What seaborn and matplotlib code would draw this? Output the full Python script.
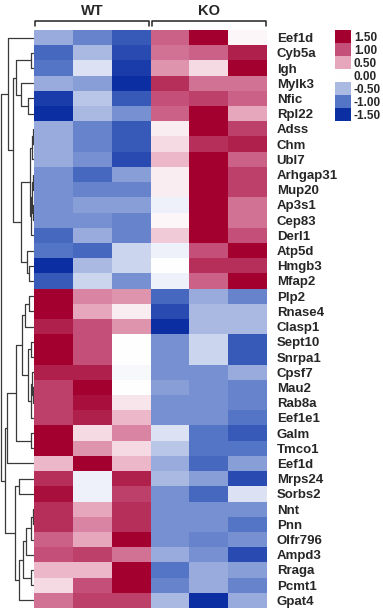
import numpy as np
import pandas as pd
import matplotlib
matplotlib.use("Agg")
import matplotlib.pyplot as plt
from matplotlib.colors import LinearSegmentedColormap
import seaborn as sns

# data
genes = ["Eef1d", "Cyb5a", "Igh", "Mylk3", "Nfic", "Rpl22", "Adss", "Chm", "Ubl7",
         "Arhgap31", "Mup20", "Ap3s1", "Cep83", "Derl1", "Atp5d", "Hmgb3", "Mfap2",
         "Plp2", "Rnase4", "Clasp1", "Sept10", "Snrpa1", "Cpsf7", "Mau2", "Rab8a",
         "Eef1e1", "Galm", "Tmco1", "Eef1d", "Mrps24", "Sorbs2", "Nnt", "Pnn",
         "Olfr796", "Ampd3", "Rraga", "Pcmt1", "Gpat4"]
samples = ["WT1", "WT2", "WT3", "KO1", "KO2", "KO3"]
groups = ["WT", "KO"]

wt1 = [-0.6, -1.1, -1.0, -0.6, -1.4, -1.5, -0.6, -0.6, -0.6, -0.8, -0.8, -0.8, -0.8,
       -1.1, -1.0, -1.5, -1.2, 1.6, 1.6, 1.3, 1.5, 1.5, 1.3, 1.1, 1.1, 1.1, 1.6, 1.6,
       0.4, 1.2, 1.4, 1.2, 1.2, 0.9, 1.0, 0.4, 0.2, 0.8]
wt2 = [-0.9, -0.5, -0.2, -0.7, -0.4, -0.5, -0.9, -0.9, -0.8, -1.1, -0.9, -0.7, -0.8,
       -0.6, -1.1, -0.5, -0.3, 0.7, 0.5, 1.0, 1.0, 1.0, 1.3, 1.6, 1.4, 1.3, 0.2, 0.6,
       1.6, -0.1, -0.1, 0.5, 0.7, 0.5, 1.1, 0.4, 1.0, 1.1]
wt3 = [-1.2, -1.3, -1.4, -1.6, -1.2, -0.8, -1.2, -1.2, -1.3, -0.7, -0.9, -0.7, -0.9,
       -0.9, -0.3, -0.3, -0.8, 0.6, 0.1, 0.6, 0.0, 0.0, -0.05, 0.0, 0.15, 0.4, 0.7, 0.2,
       0.4, 1.3, 1.1, 1.2, 1.2, 1.6, 0.8, 1.6, 1.6, 1.1]
ko1 = [0.9, 0.8, 0.6, 1.2, 1.0, 0.9, 0.1, 0.2, 0.4, 0.1, 0.1, -0.1, 0.05, 0.3,
       -0.1, 0.0, -0.1, -1.1, -1.3, -1.6, -0.8, -0.8, -0.8, -0.7, -0.8, -0.8, -0.2, -0.4,
       -0.6, -0.5, -0.8, -0.8, -0.8, -0.8, -0.6, -1.0, -0.9, -0.5]
ko2 = [1.6, 0.9, 0.2, 0.8, 1.1, 1.5, 1.6, 1.2, 1.6, 1.6, 1.6, 1.6, 1.6, 1.5, 1.0,
       1.2, 0.9, -0.6, -0.5, -0.5, -0.3, -0.3, -0.8, -0.8, -0.8, -0.8, -1.0, -1.0,
       -1.1, -0.7, -1.1, -0.8, -0.8, -0.9, -0.8, -0.6, -0.6, -1.6]
ko3 = [0.05, 1.3, 1.6, 0.8, 0.9, 0.5, 1.1, 1.3, 0.9, 1.1, 1.1, 0.8, 0.8, 1.0, 1.5,
       1.2, 1.6, -0.9, -0.5, -0.5, -1.2, -1.2, -0.6, -0.9, -0.9, -1.0, -1.2, -1.0,
       -0.7, -1.3, -0.2, -0.8, -1.0, -0.8, -1.3, -0.7, -0.9, -0.6]

# row dendrogram: (left, right, height); ids >= 38 are earlier merges
merges = [(1, 2, 3), (4, 5, 6), (3, 39, 13), (38, 40, 17),
          (6, 7, 1), (42, 8, 2), (9, 10, 1), (11, 12, 1), (44, 45, 2), (46, 13, 3),
          (43, 47, 4), (15, 16, 5), (14, 49, 7), (48, 50, 13), (41, 51, 20), (0, 52, 25),
          (17, 18, 5), (54, 19, 9), (20, 21, 3), (23, 24, 1), (22, 57, 2), (58, 25, 3),
          (56, 59, 6), (55, 60, 12), (26, 27, 3), (61, 62, 17), (63, 28, 26),
          (29, 30, 15), (31, 32, 1), (66, 33, 3), (67, 34, 8), (35, 36, 3), (68, 69, 11),
          (70, 37, 15), (65, 71, 18), (64, 72, 28), (53, 73, 32.5)]

legend_vals = [1.5, 1.0, 0.5, 0.0, -0.5, -1.0, -1.5]

df = pd.DataFrame({"WT1": wt1, "WT2": wt2, "WT3": wt3,
                   "KO1": ko1, "KO2": ko2, "KO3": ko3})

sns.set_theme(style="white")
plt.rcParams["font.family"] = ["Liberation Sans", "DejaVu Sans"]
plt.rcParams["font.weight"] = "bold"

cmap = LinearSegmentedColormap.from_list(
    "bwr_ref",
    [(0.0, "#0b2fa3"), (1 / 6, "#5576c6"), (2 / 6, "#aab9e2"), (0.5, "#ffffff"),
     (4 / 6, "#e6a6bc"), (5 / 6, "#c4507a"), (1.0, "#a3002f")])

fig = plt.figure(figsize=(3.83, 6.13), dpi=100)
ax = fig.add_axes([34 / 383, 5 / 613, 233 / 383, 578 / 613])
ax_d = fig.add_axes([0, 5 / 613, 34 / 383, 578 / 613])
ax_l = fig.add_axes([335 / 383, 1 - 121 / 613, 16 / 383, 91 / 613])

sns.heatmap(df, cmap=cmap, vmin=-1.5, vmax=1.5, cbar=False, ax=ax,
            xticklabels=False, yticklabels=genes)
ax.yaxis.tick_right()
ax.tick_params(axis="y", length=0, pad=7, labelsize=9.5)
plt.setp(ax.get_yticklabels(), rotation=0, fontweight="bold")
ax.set_ylabel("")

# group headers with brackets
for i, g in enumerate(groups):
    x0, x1 = 3 * i + 0.03, 3 * i + 2.97
    ax.plot([x0, x0, x1, x1], [-0.25, -0.62, -0.62, -0.25], color="#222222",
            lw=1.1, clip_on=False)
    ax.text(3 * i + 1.5, -1.25, g, ha="center", va="center", fontsize=10.5,
            fontweight="bold")

# dendrogram
n = len(genes)
pos = {i: i + 0.5 for i in range(n)}
hgt = {i: 0.0 for i in range(n)}
for k, (a, b, h) in enumerate(merges):
    ya, yb = pos[a], pos[b]
    ax_d.plot([hgt[a], h, h, hgt[b]], [ya, ya, yb, yb], color="#3a3a3a", lw=0.9)
    pos[n + k] = (ya + yb) / 2
    hgt[n + k] = h
ax_d.set_xlim(33, 0)
ax_d.set_ylim(n, 0)
ax_d.axis("off")

# legend
leg = pd.DataFrame({"v": legend_vals})
sns.heatmap(leg, cmap=cmap, vmin=-1.5, vmax=1.5, cbar=False, ax=ax_l,
            xticklabels=False, yticklabels=[f"{v:.2f}" for v in legend_vals])
ax_l.yaxis.tick_right()
ax_l.tick_params(axis="y", length=0, pad=2, labelsize=8.5)
plt.setp(ax_l.get_yticklabels(), rotation=0, fontweight="bold")

fig.savefig("out.png", dpi=100)
